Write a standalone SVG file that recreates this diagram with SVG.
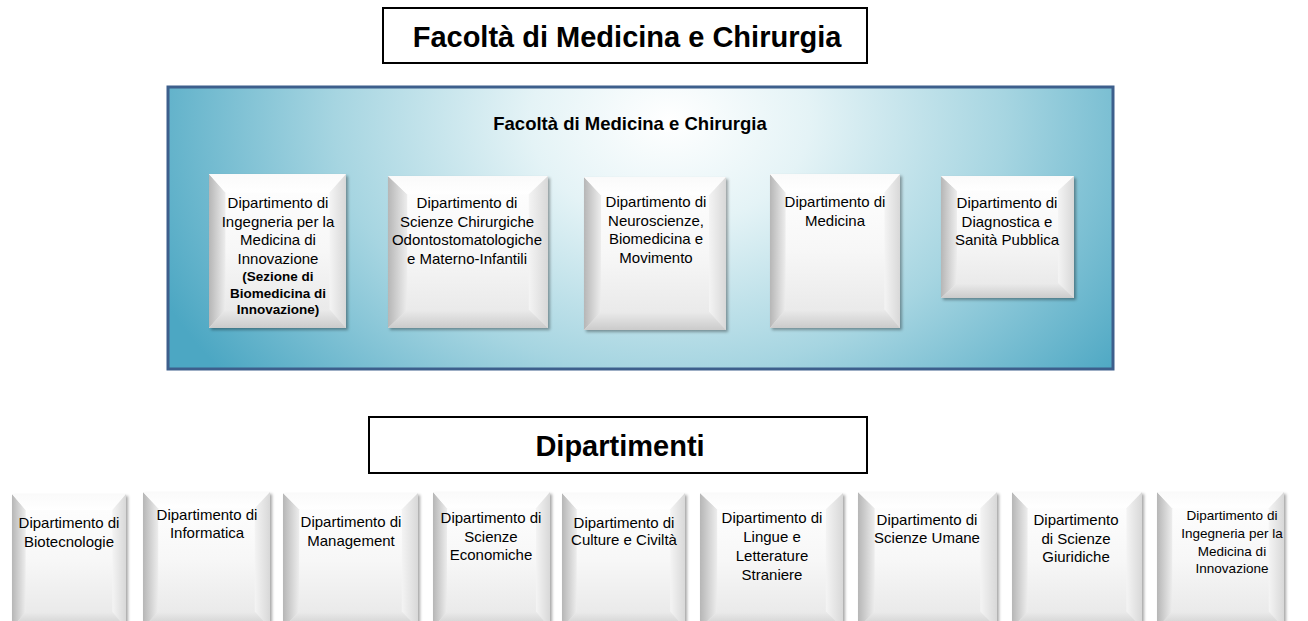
<svg xmlns="http://www.w3.org/2000/svg" xmlns:xlink="http://www.w3.org/1999/xlink" width="1308" height="621" viewBox="0 0 1308 621">
<style>
  text { font-family: "Liberation Sans", Arial, sans-serif; fill: #000; text-anchor: middle; }
  .title { font-size: 29px; font-weight: bold; }
  .sub { font-size: 18.5px; font-weight: bold; }
  .t { font-size: 15px; }
  .ts { font-size: 13.5px; }
  .tb { font-size: 13.5px; font-weight: bold; }
  .tbox { fill: #fff; stroke: #000; stroke-width: 2; }
</style>
<defs>
  <radialGradient id="gBg" gradientUnits="userSpaceOnUse" cx="670" cy="120" r="560" gradientTransform="translate(670 120) scale(1 0.75) translate(-670 -120)">
    <stop offset="0" stop-color="#ffffff"/>
    <stop offset="0.25" stop-color="#e4f3f6"/>
    <stop offset="0.6" stop-color="#a6d5e1"/>
    <stop offset="1" stop-color="#4ca7c3"/>
  </radialGradient>
  <linearGradient id="gFace" x1="0" y1="0" x2="0" y2="1">
    <stop offset="0" stop-color="#ffffff"/>
    <stop offset="0.5" stop-color="#f7f7f7"/>
    <stop offset="1" stop-color="#e6e6e6"/>
  </linearGradient>
  <linearGradient id="gLeft" x1="0" y1="0" x2="1" y2="0">
    <stop offset="0" stop-color="#b6b6b6"/>
    <stop offset="1" stop-color="#ededed"/>
  </linearGradient>
  <linearGradient id="gRight" x1="0" y1="0" x2="1" y2="0">
    <stop offset="0" stop-color="#f4f4f4"/>
    <stop offset="1" stop-color="#d8d8d8"/>
  </linearGradient>
  <linearGradient id="gTop" x1="0" y1="0" x2="0" y2="1">
    <stop offset="0" stop-color="#fafafa"/>
    <stop offset="1" stop-color="#ffffff"/>
  </linearGradient>
  <linearGradient id="gBottom" x1="0" y1="0" x2="0" y2="1">
    <stop offset="0" stop-color="#ebebeb"/>
    <stop offset="1" stop-color="#cbcbcb"/>
  </linearGradient>
  <filter id="shadow" x="-10%" y="-10%" width="125%" height="125%">
    <feDropShadow dx="2" dy="2" stdDeviation="1.8" flood-color="#000" flood-opacity="0.35"/>
  </filter>
  <symbol id="bevel" viewBox="0 0 100 100" preserveAspectRatio="none">
    <rect x="0" y="0" width="100" height="100" fill="url(#gFace)"/>
    <polygon points="0,0 12,12 12,88 0,100" fill="url(#gLeft)"/>
    <polygon points="0,0 100,0 88,12 12,12" fill="url(#gTop)"/>
    <polygon points="100,0 100,100 88,88 88,12" fill="url(#gRight)"/>
    <polygon points="0,100 100,100 88,88 12,88" fill="url(#gBottom)"/>
  </symbol>
</defs>

<rect width="1308" height="621" fill="#ffffff"/>

<g id="title-facolta">
  <rect class="tbox" x="383" y="8" width="484" height="55"/>
  <text class="title" x="627" y="46.5">Facoltà di Medicina e Chirurgia</text>
</g>

<g id="facolta-panel">
  <rect x="168" y="87" width="945" height="282" fill="url(#gBg)" stroke="#3d5f8c" stroke-width="3"/>
  <text class="sub" x="630" y="130">Facoltà di Medicina e Chirurgia</text>
</g>

<g id="fac-dip-1">
  <use href="#bevel" x="209" y="174" width="137" height="154" filter="url(#shadow)"/>
  <text class="t" x="278" y="208">Dipartimento di</text>
  <text class="t" x="278" y="226.5">Ingegneria per la</text>
  <text class="t" x="278" y="245">Medicina di</text>
  <text class="t" x="278" y="263.5">Innovazione</text>
  <text class="tb" x="278" y="281">(Sezione di</text>
  <text class="tb" x="278" y="297.5">Biomedicina di</text>
  <text class="tb" x="278" y="314">Innovazione)</text>
</g>

<g id="fac-dip-2">
  <use href="#bevel" x="388" y="176" width="160" height="152" filter="url(#shadow)"/>
  <text class="t" x="467" y="208">Dipartimento di</text>
  <text class="t" x="467" y="226.5">Scienze Chirurgiche</text>
  <text class="t" x="467" y="245">Odontostomatologiche</text>
  <text class="t" x="467" y="263.5">e Materno-Infantili</text>
</g>

<g id="fac-dip-3">
  <use href="#bevel" x="584" y="177" width="142" height="153" filter="url(#shadow)"/>
  <text class="t" x="656" y="207">Dipartimento di</text>
  <text class="t" x="656" y="225.5">Neuroscienze,</text>
  <text class="t" x="656" y="244">Biomedicina e</text>
  <text class="t" x="656" y="262.5">Movimento</text>
</g>

<g id="fac-dip-4">
  <use href="#bevel" x="770" y="174" width="130" height="154" filter="url(#shadow)"/>
  <text class="t" x="835" y="207">Dipartimento di</text>
  <text class="t" x="835" y="225.5">Medicina</text>
</g>

<g id="fac-dip-5">
  <use href="#bevel" x="941" y="176" width="133" height="122" filter="url(#shadow)"/>
  <text class="t" x="1007" y="208">Dipartimento di</text>
  <text class="t" x="1007" y="226.5">Diagnostica e</text>
  <text class="t" x="1007" y="245">Sanità Pubblica</text>
</g>

<g id="title-dipartimenti">
  <rect class="tbox" x="369" y="417" width="498" height="56"/>
  <text class="title" x="620" y="456">Dipartimenti</text>
</g>

<g id="dip-1">
  <use href="#bevel" x="12" y="494" width="114" height="134" filter="url(#shadow)"/>
  <text class="t" x="69" y="528">Dipartimento di</text>
  <text class="t" x="69" y="547">Biotecnologie</text>
</g>

<g id="dip-2">
  <use href="#bevel" x="143" y="492" width="127" height="136" filter="url(#shadow)"/>
  <text class="t" x="207" y="520">Dipartimento di</text>
  <text class="t" x="207" y="538">Informatica</text>
</g>

<g id="dip-3">
  <use href="#bevel" x="283" y="493" width="135" height="135" filter="url(#shadow)"/>
  <text class="t" x="351" y="527">Dipartimento di</text>
  <text class="t" x="351" y="546">Management</text>
</g>

<g id="dip-4">
  <use href="#bevel" x="433" y="492" width="117" height="136" filter="url(#shadow)"/>
  <text class="t" x="491" y="523">Dipartimento di</text>
  <text class="t" x="491" y="541.5">Scienze</text>
  <text class="t" x="491" y="560">Economiche</text>
</g>

<g id="dip-5">
  <use href="#bevel" x="562" y="493" width="123" height="135" filter="url(#shadow)"/>
  <text class="t" x="624" y="528">Dipartimento di</text>
  <text class="t" x="624" y="545">Culture e Civiltà</text>
</g>

<g id="dip-6">
  <use href="#bevel" x="700" y="493" width="143" height="135" filter="url(#shadow)"/>
  <text class="t" x="772" y="523">Dipartimento di</text>
  <text class="t" x="772" y="542">Lingue e</text>
  <text class="t" x="772" y="561">Letterature</text>
  <text class="t" x="772" y="580">Straniere</text>
</g>

<g id="dip-7">
  <use href="#bevel" x="858" y="492" width="139" height="136" filter="url(#shadow)"/>
  <text class="t" x="927" y="525">Dipartimento di</text>
  <text class="t" x="927" y="543">Scienze Umane</text>
</g>

<g id="dip-8">
  <use href="#bevel" x="1012" y="492" width="130" height="136" filter="url(#shadow)"/>
  <text class="t" x="1076" y="525">Dipartimento</text>
  <text class="t" x="1076" y="544">di Scienze</text>
  <text class="t" x="1076" y="562">Giuridiche</text>
</g>

<g id="dip-9">
  <use href="#bevel" x="1157" y="492" width="127" height="136" filter="url(#shadow)"/>
  <text class="ts" x="1232" y="520">Dipartimento di</text>
  <text class="ts" x="1232" y="538">Ingegneria per la</text>
  <text class="ts" x="1232" y="556">Medicina di</text>
  <text class="ts" x="1232" y="573">Innovazione</text>
</g>

<g id="connectors"></g>
</svg>
